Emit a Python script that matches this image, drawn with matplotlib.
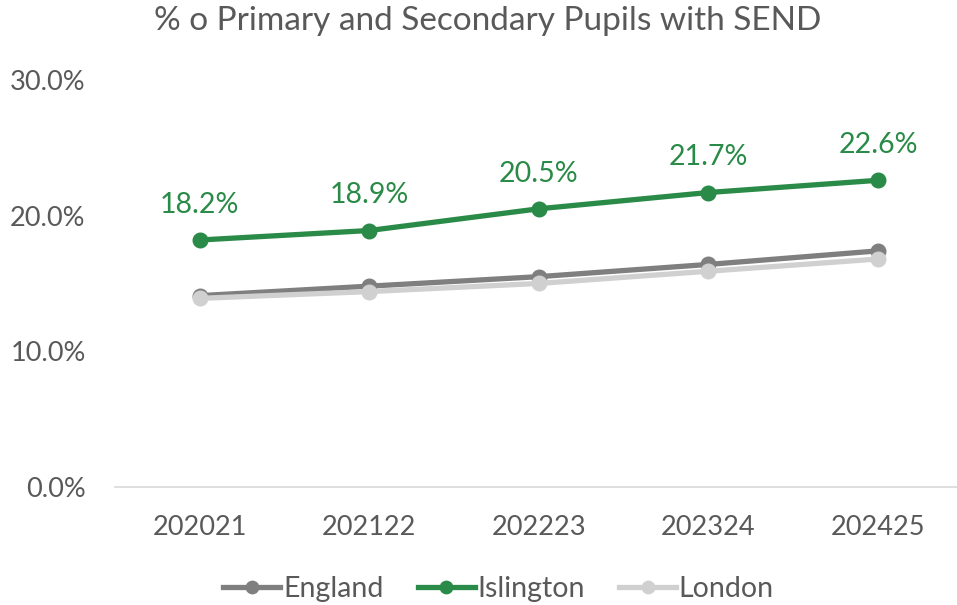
import matplotlib.pyplot as plt
from matplotlib.ticker import FuncFormatter

plt.rcParams['font.family'] = ['Lato', 'DejaVu Sans']

# Data
years = ['202021', '202122', '202223', '202324', '202425']
england = [14.1, 14.8, 15.5, 16.4, 17.4]
islington = [18.2, 18.9, 20.5, 21.7, 22.6]
london = [13.9, 14.4, 15.0, 15.9, 16.8]

grey_text = '#595959'
green = '#2a8a47'

fig = plt.figure(figsize=(9.57, 6.05), dpi=100)
ax = fig.add_axes([0.12, 0.195, 0.886, 0.673])

x = range(len(years))
ax.plot(x, england, color='#7f7f7f', lw=3.8, marker='o', ms=10.5, label='England')
ax.plot(x, islington, color=green, lw=3.8, marker='o', ms=10.5, label='Islington')
ax.plot(x, london, color='#d0d0d0', lw=3.8, marker='o', ms=10.5, label='London')

for i, v in enumerate(islington):
    ax.annotate(f'{v:.1f}%', (i, v), xytext=(0, 16), textcoords='offset points',
                ha='center', va='bottom', color=green, fontsize=20.5)

ax.set_xlim(-0.5, 4.5)
ax.set_ylim(0, 30)
ax.set_yticks([0, 10, 20, 30])
ax.yaxis.set_major_formatter(FuncFormatter(lambda v, p: f'{v:.1f}%'))
ax.set_xticks(list(x))
ax.set_xticklabels(years)
ax.tick_params(axis='both', length=0, labelsize=19.5, colors=grey_text)
ax.tick_params(axis='x', pad=20)
ax.tick_params(axis='y', pad=21)

for s in ['top', 'right', 'left']:
    ax.spines[s].set_visible(False)
ax.spines['bottom'].set_color('#d9d9d9')
ax.spines['bottom'].set_linewidth(1.2)

fig.suptitle('% o Primary and Secondary Pupils with SEND', x=0.51, y=0.99,
             fontsize=24, color=grey_text)

leg = fig.legend(loc='lower center', bbox_to_anchor=(0.521, -0.037), ncol=3, frameon=False,
                 fontsize=20.5, handlelength=2.0, handletextpad=0.1, columnspacing=1.2,
                 markerscale=0.85)
for t in leg.get_texts():
    t.set_color(grey_text)

fig.savefig('out.png', dpi=100)
